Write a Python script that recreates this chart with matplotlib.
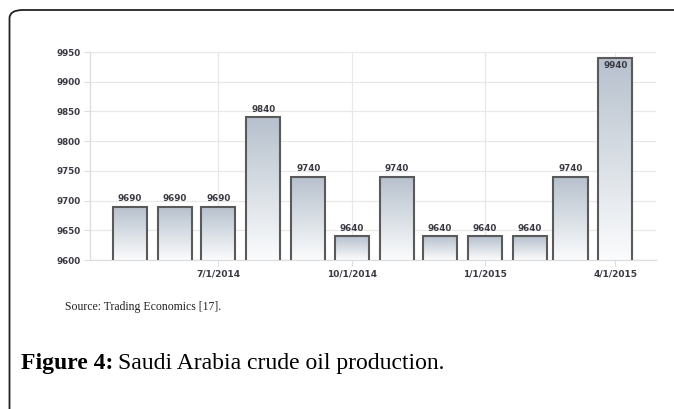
import numpy as np
import matplotlib
matplotlib.use("Agg")
import matplotlib.pyplot as plt
import matplotlib.dates as mdates
from matplotlib.patches import FancyBboxPatch
from datetime import datetime

# monthly production (thousand barrels per day)
months = ["2014-05-01", "2014-06-01", "2014-07-01", "2014-08-01", "2014-09-01", "2014-10-01",
          "2014-11-01", "2014-12-01", "2015-01-01", "2015-02-01", "2015-03-01", "2015-04-01"]
production = [9690, 9690, 9690, 9840, 9740, 9640, 9740, 9640, 9640, 9640, 9740, 9940]
tick_dates = ["2014-07-01", "2014-10-01", "2015-01-01", "2015-04-01"]
tick_labels = ["7/1/2014", "10/1/2014", "1/1/2015", "4/1/2015"]
yticks = [9600, 9650, 9700, 9750, 9800, 9850, 9900, 9950]

dates = [datetime.strptime(m, "%Y-%m-%d") for m in months]
tdates = [datetime.strptime(m, "%Y-%m-%d") for m in tick_dates]

fig = plt.figure(figsize=(6.74, 4.09), dpi=100)

# rounded frame that runs off the right and bottom of the picture
frame = FancyBboxPatch((9.5 / 674, -0.2), 1.2, (409 - 10) / 409 + 0.2,
                       boxstyle="round,pad=0,rounding_size=0.02",
                       transform=fig.transFigure, fill=False,
                       edgecolor="#222222", linewidth=1.3)
fig.patches.append(frame)

ax = fig.add_axes([89.5 / 674, 149 / 409, 566.5 / 674, 208 / 409])

ylo, yhi = 9600, 9950
ax.set_ylim(ylo, yhi)
ax.set_xlim(datetime(2014, 4, 3), datetime(2015, 4, 29))

bar_w = 23.5
bars = ax.bar(dates, production, width=bar_w, facecolor="none",
              edgecolor="#5a5a5a", linewidth=1.5, zorder=3)

# gray-blue to white gradient in every bar
grad = np.linspace(0, 1, 256).reshape(-1, 1)
cmap = matplotlib.colors.LinearSegmentedColormap.from_list("g", ["#b6c0cc", "#fbfcfd"])
for d, v, b in zip(dates, production, bars):
    x0 = mdates.date2num(d) - bar_w / 2
    im = ax.imshow(grad, cmap=cmap, aspect="auto", origin="upper",
                   extent=[x0, x0 + bar_w, ylo, v], zorder=2)
    im.set_clip_path(b)
    if v > 9900:
        ax.text(d, v - 5, str(v), ha="center", va="top", fontsize=6.3,
                weight="bold", color="#3a3a44", zorder=4)
    else:
        ax.text(d, v + 6, str(v), ha="center", va="bottom", fontsize=6.3,
                weight="bold", color="#3a3a44", zorder=4)

ax.set_yticks(yticks)
ax.set_yticklabels([str(y) for y in yticks], fontsize=6.3, weight="bold", color="#3a3a44")
ax.set_xticks(tdates)
ax.set_xticklabels(tick_labels, fontsize=6.5, weight="bold", color="#3a3a44")
ax.tick_params(axis="both", length=4.5, color="#dddddd", width=0.8, pad=2)

ax.grid(True, color="#e8e8e8", linewidth=0.9, zorder=0)
ax.set_axisbelow(True)
for s in ["top", "right"]:
    ax.spines[s].set_visible(False)
for s in ["left", "bottom"]:
    ax.spines[s].set_color("#dddddd")
    ax.spines[s].set_linewidth(0.9)

fig.text(65 / 674, 1 - 307 / 409, "Source: Trading Economics [17].",
         fontsize=8.5, family="Liberation Serif", color="#222222", va="center")

# caption: bold label followed by normal text
cap_y = 1 - 364 / 409
lab = fig.text(21 / 674, cap_y, "Figure 4:", fontsize=17, weight="bold",
               family="Liberation Serif", va="center")
fig.canvas.draw()
bb = lab.get_window_extent()
fig.text((bb.x1 + 5) / 674, cap_y, "Saudi Arabia crude oil production.", fontsize=17,
         family="Liberation Serif", va="center")

fig.savefig("out.png", dpi=100)
